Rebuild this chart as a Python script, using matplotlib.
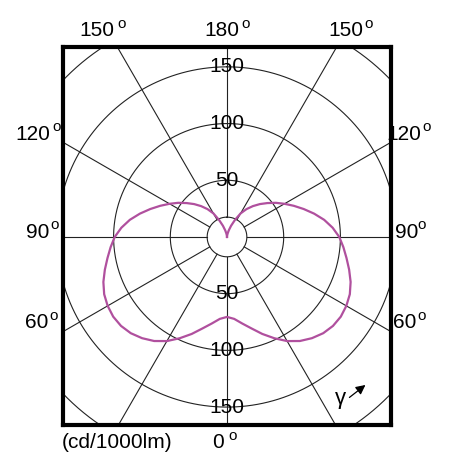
import numpy as np
import matplotlib.pyplot as plt

# luminous intensity (cd/1000lm) vs gamma angle, same on both sides
gamma = [0, 5, 10, 15, 20, 25, 30, 35, 40, 45, 50, 55, 60, 65, 70, 75, 80, 85, 90,
         95, 100, 105, 110, 115, 120, 125, 130, 135, 140, 145, 150, 155, 160, 165, 170, 175, 180]
intensity = [70.5, 72.5, 77.5, 83.5, 91, 98.5, 106, 112, 116.5, 120, 122, 122.5, 121.5, 119.5, 116, 111.5, 107, 103, 99,
             93.5, 87, 79.5, 72, 65, 58.5, 52.5, 46.5, 41, 35.5, 30, 24, 16.5, 10.5, 6, 3, 1, 0]

rings = [50, 100, 150, 200]
inner_ring = 17.5
spokes = [0, 30, 60, 90, 120, 150, 180, 210, 240, 270, 300, 330]
ring_labels = ['50', '100', '150']

# angle labels: text, digit centre x, y, degree x
angle_labels = [('150', 97, 31, 122), ('180', 222, 31, 246), ('150', 346, 31, 369),
                ('120', 33, 134, 57), ('120', 404, 134, 427),
                ('90', 38, 232, 55), ('90', 407, 232, 422),
                ('60', 37, 323, 54), ('60', 405, 323, 422),
                ('0', 218, 443, 233)]

W, H = 452, 470
fig = plt.figure(figsize=(W / 100, H / 100), dpi=100)
ax = fig.add_axes([63 / W, 45 / H, 328 / W, 378 / H])
ax.set_xlim(-144.6, 144.6)
ax.set_ylim(-165.8, 167.5)
ax.set_aspect('equal', adjustable='box')
ax.set_xticks([])
ax.set_yticks([])
for s in ax.spines.values():
    s.set_linewidth(3)
    s.set_color('black')
    s.set_zorder(5)

t = np.linspace(0, 2 * np.pi, 400)
for r in rings + [inner_ring]:
    ax.plot(r * np.sin(t), r * np.cos(t), color='#222222', lw=0.8)
for a in spokes:
    ar = np.radians(a)
    ax.plot([inner_ring * np.sin(ar), 260 * np.sin(ar)],
            [-inner_ring * np.cos(ar), -260 * np.cos(ar)], color='#222222', lw=0.8)

# curve: gamma measured from the downward direction
g = np.radians(gamma)
I = np.array(intensity)
x_right = I * np.sin(g)
y_right = -I * np.cos(g)
xs = np.concatenate([-x_right[::-1], x_right[1:]])
ys = np.concatenate([y_right[::-1], y_right[1:]])
ax.plot(xs, ys, color='#b0509e', lw=1.6, zorder=4, solid_joinstyle='round')

fs = 15
fam = ['Liberation Sans', 'DejaVu Sans']
for lab, r in zip(ring_labels, [50, 100, 150]):
    ax.text(0, r, lab, ha='center', va='center', fontsize=fs, family=fam)
    ax.text(0, -r, lab, ha='center', va='center', fontsize=fs, family=fam)

def ftext(x, y, s, ha='center', size=fs):
    fig.text(x / W, 1 - y / H, s, ha=ha, va='center', fontsize=size, family=fam)

for lab, x, y, dx in angle_labels:
    ftext(x, y, lab)
    ftext(dx, y - 7, 'o', size=11)
ftext(62, 443, '(cd/1000lm)', ha='left')

ax.text(100, -142, 'γ', ha='center', va='center', fontsize=16, family=fam)
ax.annotate('', xy=(124, -129), xytext=(106, -143),
            arrowprops=dict(arrowstyle='-|>', color='black', lw=0.9, mutation_scale=14))

fig.savefig('out.png', dpi=100)
